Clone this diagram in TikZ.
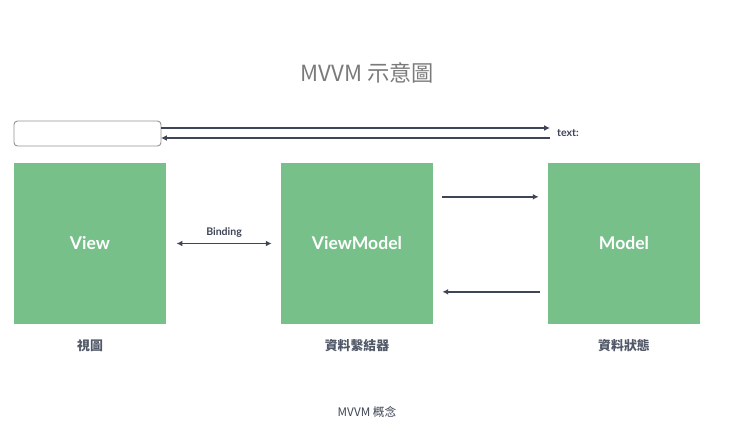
\documentclass[tikz,border=0pt]{standalone}
\usepackage{fontspec}
\setmainfont{Lato}
\newfontfamily\cjk{Noto Sans CJK TC}
\usetikzlibrary{arrows.meta}
\definecolor{boxgreen}{HTML}{77C08A}
\definecolor{arrowgray}{HTML}{3E4556}
\definecolor{titlegray}{HTML}{7A7A7A}

\begin{document}
\begin{tikzpicture}[x=0.03cm, y=-0.03cm,
    layer/.style={fill=boxgreen, minimum width=4.56cm, minimum height=4.83cm, inner sep=0pt, outer sep=0pt, text=white, font=\bfseries\fontsize{15}{18}\selectfont},
    caption/.style={text=arrowgray!90, font=\cjk\bfseries\fontsize{11}{13}\selectfont},
    flow/.style={draw=arrowgray, line width=1.3pt, -{Latex[length=5pt,width=5pt]}}]
    \useasboundingbox (0,0) rectangle (735,431);
    % title
    \node[text=titlegray, font=\cjk\fontsize{19}{22}\selectfont] (title) at (367,73) {MVVM 示意圖};
    % input box and the two-way text arrows
    \node[draw=gray!85, line width=0.8pt, rounded corners=3pt, minimum width=4.41cm, minimum height=0.75cm, inner sep=0pt, outer sep=0pt] (input) at (87.5,133.5) {};
    \coordinate (t1) at (550,128);
    \coordinate (t2) at (550,138);
    \draw[flow, line width=1.2pt] (input.east |- t1) -- (t1);
    \draw[flow, line width=1.2pt] (t2) -- (input.east |- t2);
    \node[anchor=west, text=arrowgray, font=\bfseries\fontsize{9}{11}\selectfont] (txt) at (553,133) {text:};
    % the three layers
    \node[layer] (view) at (90,243.5) {View};
    \node[layer] (vm) at (357,243.5) {ViewModel};
    \node[layer] (model) at (624,243.5) {Model};
    \node[caption] (viewlbl) at (90,346) {視圖};
    \node[caption] (vmlbl) at (357,346) {資料繫結器};
    \node[caption] (modellbl) at (624,346) {資料狀態};
    % connectors
    \draw[flow, line width=1.1pt, {Latex[length=5pt,width=5pt]}-{Latex[length=5pt,width=5pt]}] ([xshift=9pt]view.east) -- ([xshift=-8pt]vm.west)
      node[midway, above=1pt, text=arrowgray, font=\bfseries\fontsize{9}{11}\selectfont] (bind) {Binding};
    \draw[flow] ([xshift=8pt,yshift=1.4cm]vm.east) -- ([xshift=-8pt,yshift=1.4cm]model.west);
    \draw[flow] ([xshift=-7pt,yshift=-1.45cm]model.west) -- ([xshift=8pt,yshift=-1.45cm]vm.east);
    % figure caption
    \node[text=arrowgray, font=\cjk\fontsize{10}{12}\selectfont] (fig) at (367,412) {MVVM 概念};
\end{tikzpicture}
\end{document}
